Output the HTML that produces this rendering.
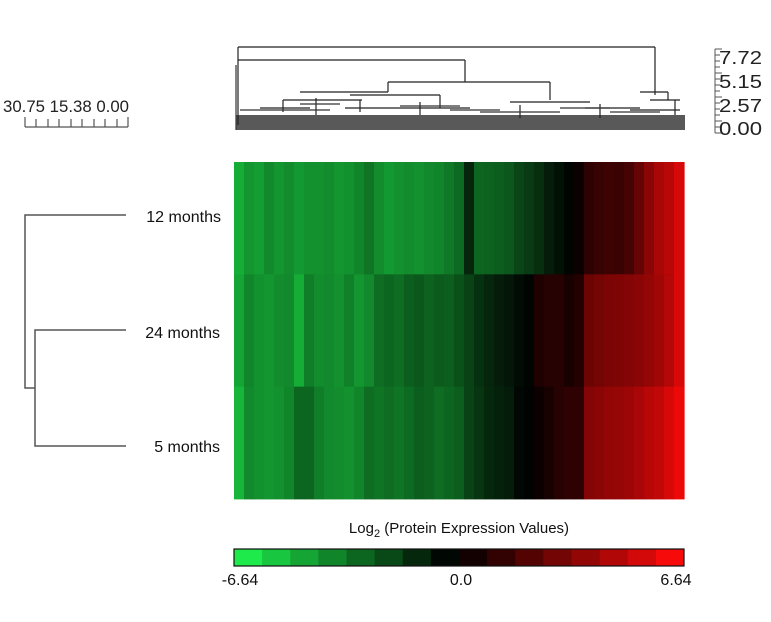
<!DOCTYPE html>
<html><head><meta charset="utf-8">
<style>
body{margin:0;background:#fff;}
svg{display:block;font-family:"Liberation Sans",Arial,sans-serif;}
</style></head>
<body>
<svg id="chart" width="771" height="622" viewBox="0 0 771 622">
  <g id="top-dendro" stroke="#222" stroke-width="1.2" fill="none">
    <path d="M238 47 H655 M238 47 V125 M655 47 V95 M238 60 H465 M465 60 V82 M388 82 H550 M388 82 V92 M550 82 V100 M300 92 H388 M350 95 H440 M440 95 V108 M283 100 H362 M283 100 V112 M510 102 H590 M345 108 H470 M260 108 H310 M640 92 H668 M668 92 V100 M650 100 H680 M630 110 H680 M585 108 H640 M316 98 V115 M360 100 V112 M420 102 V115 M520 105 V118 M600 104 V118 M675 100 V115"/>
    <rect x="236" y="115" width="449" height="15" fill="#222" stroke="none" opacity="0.75"/>
    <path d="M240 110 H330 M400 106 H460 M480 112 H560 M560 108 H610 M236 65 V130 M300 104 H340 M450 110 H500 M610 112 H660" stroke="#333"/>
  </g>
  <g id="top-axis" font-size="18" fill="#222">
    <path d="M715 49 V133 M715 49 H722 M715 55 H720 M715 61 H720 M715 67 H720 M715 73 H722 M715 79 H720 M715 85 H720 M715 91 H720 M715 97 H722 M715 103 H720 M715 109 H720 M715 115 H720 M715 121 H722 M715 127 H720 M715 133 H722" stroke="#555" stroke-width="1"/>
    <text x="719" y="64" textLength="43" lengthAdjust="spacingAndGlyphs">7.72</text>
    <text x="719" y="88" textLength="43" lengthAdjust="spacingAndGlyphs">5.15</text>
    <text x="719" y="112" textLength="43" lengthAdjust="spacingAndGlyphs">2.57</text>
    <text x="719" y="135" textLength="43" lengthAdjust="spacingAndGlyphs">0.00</text>
  </g>
  <g id="left-scale" font-size="17" fill="#222">
    <text x="3" y="112" textLength="126" lengthAdjust="spacingAndGlyphs">30.75 15.38  0.00</text>
    <path d="M25 127 H128 M25 117 V127 M36 119 V127 M48 119 V127 M59 119 V127 M71 119 V127 M82 119 V127 M94 119 V127 M105 119 V127 M117 119 V127 M128 117 V127" stroke="#555" stroke-width="1.2"/>
  </g>
  <g id="left-dendro" stroke="#555" stroke-width="1.5" fill="none">
    <path d="M126 215 H25 V388 H35 M126 330 H35 V446 H126"/>
  </g>
  <g font-size="16" fill="#111" text-anchor="end">
    <text x="221" y="222">12 months</text>
    <text x="220" y="338">24 months</text>
    <text x="220" y="452">5 months</text>
  </g>
  <g id="cells"></g>
  <text x="459" y="533" font-size="15" text-anchor="middle" fill="#111">Log<tspan font-size="11" dy="4">2</tspan><tspan dy="-4"> (Protein Expression Values)</tspan></text>
  <g id="cbar"></g>
  <rect x="234" y="549" width="450" height="17" fill="none" stroke="#111" stroke-width="1.2"/>
  <g font-size="16" fill="#111" text-anchor="middle">
    <text x="240" y="585">-6.64</text>
    <text x="461" y="585">0.0</text>
    <text x="676" y="585">6.64</text>
  </g>
</svg>
<script>
const rowLabels = ["12 months","24 months","5 months"];
const row12 = [-5.2,-4.6,-4.8,-4.3,-4.6,-4.4,-4.7,-4.5,-4.5,-4.4,-4.6,-4.5,-4.2,-3.8,-4.4,-4.7,-4.5,-4.4,-4.5,-4.3,-4.2,-3.9,-3.5,-1.5,-3.4,-3.3,-3.2,-3.0,-2.5,-2.2,-1.8,-1.2,-0.8,-0.3,0.3,1.2,1.4,1.6,1.5,1.8,2.6,3.6,4.4,4.8,5.6];
const row24 = [-5.0,-4.2,-4.5,-4.6,-4.4,-4.3,-5.2,-4.0,-4.4,-4.3,-4.5,-4.1,-4.6,-4.3,-3.6,-3.4,-3.6,-3.2,-3.0,-3.3,-3.1,-3.2,-2.8,-2.4,-1.9,-1.5,-1.2,-1.0,-0.6,-0.3,0.8,1.0,1.0,0.6,0.9,2.8,3.0,3.2,3.3,3.4,3.6,3.8,4.2,4.7,5.6];
const row5 = [-5.4,-4.3,-4.5,-4.6,-4.5,-4.2,-3.4,-3.4,-4.0,-4.3,-4.4,-4.5,-4.2,-3.6,-3.8,-3.6,-3.8,-3.5,-3.2,-3.3,-3.6,-3.4,-3.2,-2.4,-2.0,-1.6,-1.4,-1.2,-0.4,-0.2,0.3,0.6,1.0,1.2,1.2,3.4,3.6,3.8,3.9,4.1,4.4,4.8,5.0,5.6,6.2];
const cbarValues = [-6.64,-5.8,-5.0,-4.2,-3.4,-2.6,-1.6,-0.4,0.5,1.3,2.2,3.0,3.8,4.6,5.5,6.4];
const vmax = 6.64;
function color(v){
  const t = Math.min(1, Math.abs(v)/vmax);
  if (v < 0) {
    const g = Math.pow(t, 1.25);
    return `rgb(${Math.round(g*30)},${Math.round(g*235)},${Math.round(g*75)})`;
  }
  return `rgb(${Math.round(t*255)},${Math.round(t*10)},${Math.round(t*10)})`;
}
const NS = "http://www.w3.org/2000/svg";
const hx0 = 234, hx1 = 684, hy0 = 162, hy1 = 499;
const rows = [row12, row24, row5];
const rowH = (hy1-hy0)/rows.length;
const cells = document.getElementById('cells');
rows.forEach((r, ri) => {
  const w = (hx1-hx0)/r.length;
  r.forEach((v, ci) => {
    const el = document.createElementNS(NS,'rect');
    el.setAttribute('x', hx0 + ci*w);
    el.setAttribute('y', hy0 + ri*rowH);
    el.setAttribute('width', w+0.6);
    el.setAttribute('height', rowH+0.4);
    el.setAttribute('fill', color(v));
    
    
    cells.appendChild(el);
  });
});
const cb = document.getElementById('cbar');
const cw = 450/cbarValues.length;
cbarValues.forEach((v, i) => {
  const el = document.createElementNS(NS,'rect');
  el.setAttribute('x', 234 + i*cw);
  el.setAttribute('y', 549);
  el.setAttribute('width', cw+0.5);
  el.setAttribute('height', 17);
  el.setAttribute('fill', color(v));
  
  
  cb.appendChild(el);
});
</script>
</body></html>
